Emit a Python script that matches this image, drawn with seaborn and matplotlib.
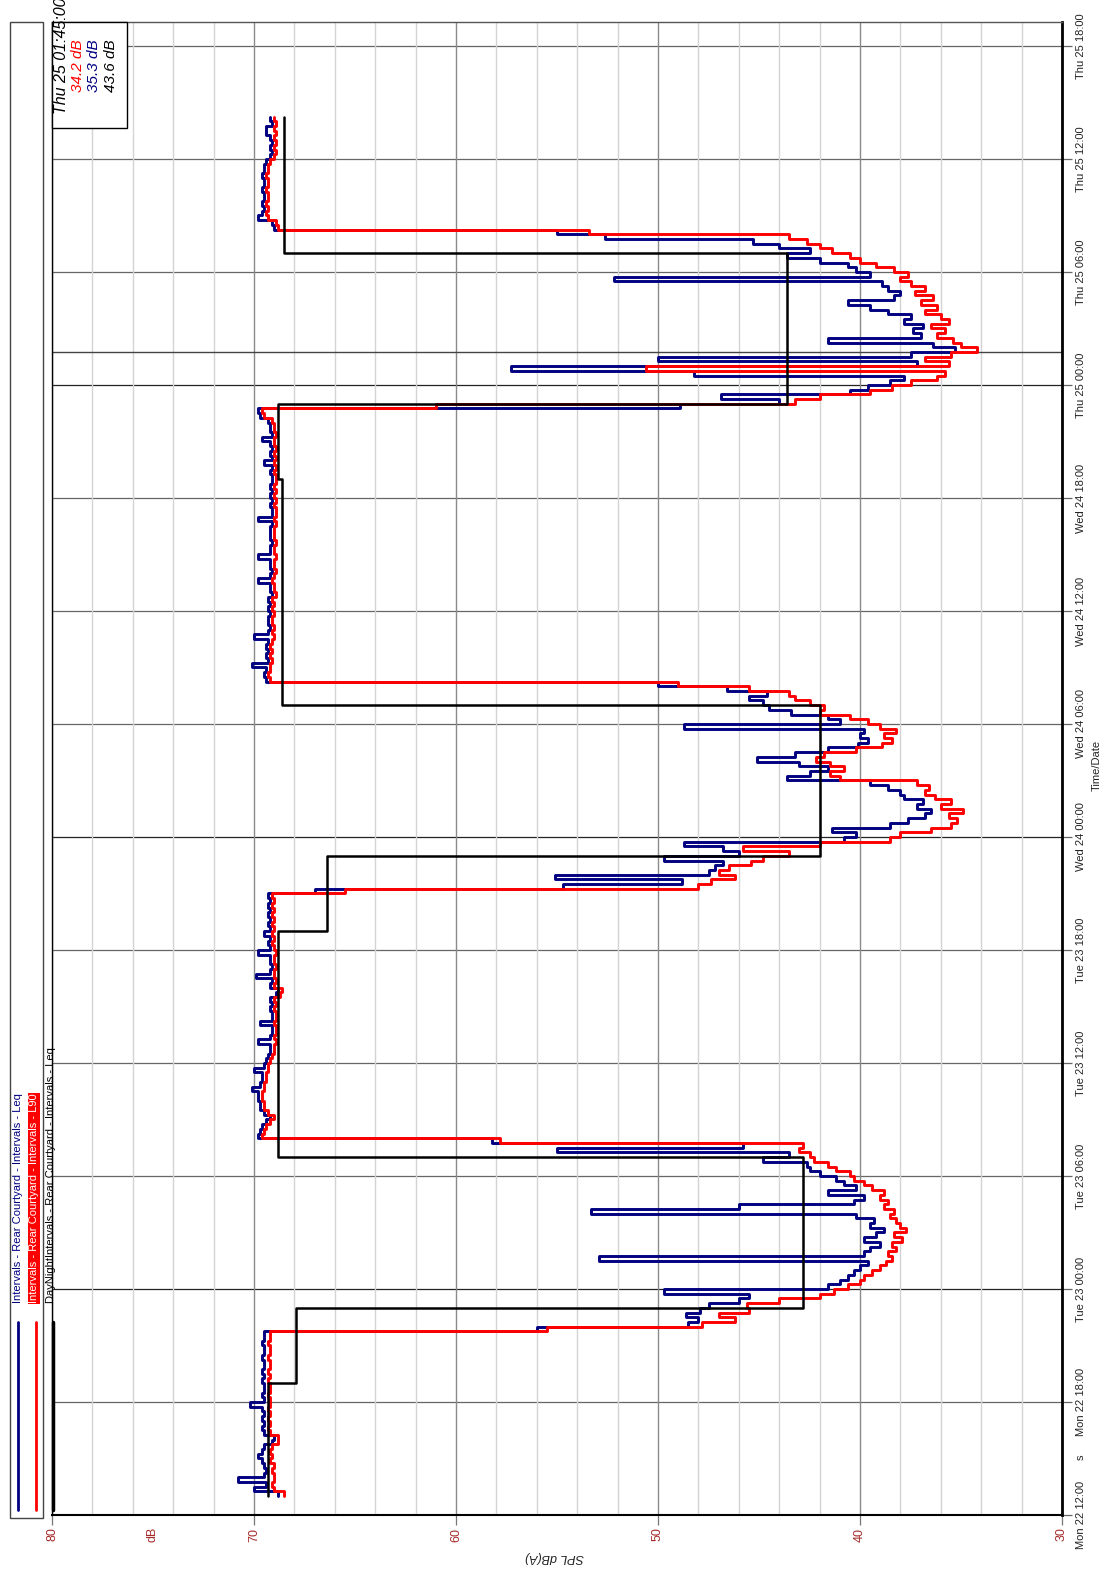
import numpy as np
import pandas as pd
import seaborn as sns
import matplotlib.pyplot as plt
from matplotlib.patches import Rectangle
from matplotlib.lines import Line2D

W, H = 1113, 1573

# 15 minute intervals, hours counted from Mon 22 12:00, first interval starts 13:00
start_hour = 1.0
step_hour = 0.25

# L90 (red) per period
l90_mon_day = [68.5, 69.0, 69.1, 69.0, 69.0, 69.1, 69.0,
               69.2, 69.1, 69.2, 69.1, 68.8, 68.8, 69.2,
               69.3, 69.2, 69.3, 69.2, 69.3, 69.2, 69.2,
               69.3, 69.2, 69.2, 69.3, 69.2, 69.3, 69.2,
               69.2, 69.3, 69.2, 69.2, 69.3, 69.2, 69.2]
l90_night1 = [55.5, 47.8, 46.2, 47.0, 45.5, 45.6, 44.0, 42.0,
              41.3, 40.6, 40.0, 39.8, 39.4, 39.0, 38.7, 38.4,
              38.6, 38.2, 38.4, 37.9, 38.3, 37.7, 38.0, 38.2,
              38.5, 38.3, 38.8, 38.6, 39.0, 38.8, 39.4, 39.8,
              40.3, 40.5, 41.2, 41.6, 42.3, 42.5, 43.0, 42.8]
l90_tue_day = [57.8, 69.6, 69.5, 69.4, 69.2, 69.0, 69.3, 69.5,
               69.5, 69.6, 69.6, 69.5, 69.5, 69.4, 69.4, 69.3,
               69.3, 69.2, 69.1, 69.0, 69.0, 68.9, 69.0, 68.9,
               68.9, 69.0, 68.9, 68.9, 69.0, 68.9, 69.0, 68.7,
               68.6, 69.0, 68.9, 69.0, 69.0, 68.9, 69.0, 69.0,
               68.9, 69.0, 69.1, 69.0, 69.1, 69.0, 69.1, 69.0,
               69.1, 69.0, 69.1, 69.0, 69.1]
l90_night2 = [65.5, 48.0, 47.4, 46.2, 47.0, 46.5, 45.4, 44.8,
              43.5, 45.8, 42.0, 38.5, 38.0, 36.5, 35.5, 35.2,
              35.6, 34.9, 36.0, 35.5, 36.3, 36.8, 36.6, 37.2,
              41.0, 41.5, 40.8, 41.5, 42.2, 41.8, 40.2, 38.9,
              38.4, 38.8, 38.2, 39.0, 39.6, 40.5, 42.0, 41.8,
              42.5, 43.2, 43.5, 45.5, 49.0]
l90_wed_day = [69.2, 69.3, 69.2, 69.2, 69.1, 69.2, 69.1, 69.2,
               69.1, 69.0, 69.1, 69.0, 69.1, 69.1, 69.0, 69.1,
               69.0, 69.1, 68.9, 69.0, 69.0, 69.1, 69.0, 68.9,
               69.0, 69.0, 68.9, 69.0, 69.0, 68.9, 69.0, 69.0,
               69.0, 68.9, 69.0, 68.9, 68.9, 69.0, 68.9, 69.0,
               68.9, 69.0, 68.9, 68.9, 69.0, 68.9, 69.0, 68.9,
               69.0, 68.9, 69.0, 69.0, 68.9, 69.0, 69.0, 69.1,
               69.5, 69.6]
l90_night3 = [61.0, 43.2, 42.0, 39.5, 38.4, 37.5, 36.2, 35.8,
              50.6, 35.6, 36.8, 35.5, 34.2, 35.0, 35.4, 36.2,
              35.8, 36.5, 35.6, 36.0, 36.8, 36.2, 37.0, 36.4,
              37.3, 36.8, 37.5, 38.0, 37.6, 38.3, 39.2, 40.0,
              40.5, 41.4, 42.0, 42.6, 43.5]
l90_thu_day = [53.4, 68.8, 68.9, 69.3, 69.4, 69.3, 69.4, 69.3,
               69.3, 69.4, 69.3, 69.3, 69.4, 69.3, 69.3, 69.2,
               69.0, 68.9, 69.0, 68.9, 69.0, 68.9, 69.0, 68.9,
               69.0]

# Leq (blue) per period
leq_mon_day = [68.8, 70.0, 69.4, 70.8, 69.5, 69.4, 69.5,
               69.6, 69.8, 69.6, 69.5, 69.1, 69.0, 69.5,
               69.6, 69.5, 69.6, 69.5, 69.6, 70.2, 69.5,
               69.6, 69.5, 69.5, 69.6, 69.5, 69.6, 69.5,
               69.5, 69.6, 69.5, 69.5, 69.6, 69.5, 69.5]
leq_night1 = [56.0, 48.5, 48.0, 48.6, 47.9, 47.5, 46.0, 45.5,
              49.7, 41.6, 41.0, 40.6, 40.3, 40.0, 39.6, 52.9,
              39.8, 39.5, 39.0, 39.8, 39.2, 38.8, 39.5, 39.3,
              40.2, 53.3, 46.0, 40.3, 39.8, 41.6, 40.2, 40.8,
              41.2, 42.0, 42.5, 42.6, 44.8, 43.5, 55.0, 45.8]
leq_tue_day = [58.2, 69.8, 69.7, 69.6, 69.4, 69.2, 69.5, 69.7,
               69.7, 69.8, 69.8, 70.1, 69.7, 69.6, 69.6, 70.0,
               69.5, 69.4, 69.3, 69.2, 69.2, 69.8, 69.2, 69.1,
               69.1, 69.7, 69.1, 69.1, 69.2, 69.1, 69.2, 68.9,
               68.8, 69.2, 69.1, 69.9, 69.2, 69.1, 69.2, 69.2,
               69.8, 69.2, 69.3, 69.2, 69.5, 69.2, 69.3, 69.2,
               69.3, 69.2, 69.3, 69.2, 69.3]
leq_night2 = [67.0, 54.7, 48.8, 55.1, 47.5, 47.2, 46.8, 49.7,
              46.0, 46.8, 48.7, 40.8, 40.2, 41.4, 38.5, 37.6,
              36.8, 36.5, 37.2, 36.9, 37.8, 38.0, 38.6, 39.5,
              43.6, 42.5, 41.6, 43.0, 45.1, 43.2, 41.6, 40.1,
              39.6, 40.0, 39.8, 48.7, 41.0, 41.6, 43.4, 44.5,
              44.8, 45.5, 44.6, 46.6, 50.0]
leq_wed_day = [69.4, 69.5, 69.4, 70.1, 69.3, 69.4, 69.3, 69.4,
               69.3, 70.0, 69.3, 69.2, 69.3, 69.3, 69.2, 69.3,
               69.2, 69.3, 69.1, 69.2, 69.2, 69.8, 69.2, 69.1,
               69.2, 69.2, 69.8, 69.2, 69.2, 69.1, 69.2, 69.2,
               69.2, 69.1, 69.8, 69.1, 69.1, 69.2, 69.1, 69.2,
               69.1, 69.2, 69.1, 69.1, 69.2, 69.1, 69.5, 69.1,
               69.2, 69.1, 69.2, 69.6, 69.1, 69.2, 69.2, 69.3,
               69.7, 69.8]
leq_night3 = [48.9, 44.0, 46.9, 40.5, 39.6, 38.5, 37.8, 48.2,
              57.3, 37.2, 50.0, 37.5, 35.3, 36.4, 41.6, 37.0,
              37.4, 36.9, 37.8, 37.5, 38.6, 39.5, 40.6, 38.3,
              38.0, 38.6, 38.9, 52.2, 39.5, 40.2, 40.6, 42.0,
              43.6, 42.5, 44.0, 45.3, 52.6]
leq_thu_day = [55.0, 69.0, 69.1, 69.8, 69.6, 69.5, 69.6, 69.5,
               69.5, 69.6, 69.5, 69.5, 69.6, 69.5, 69.5, 69.4,
               69.2, 69.1, 69.2, 69.1, 69.2, 69.4, 69.4, 69.1,
               69.2]

# DayNight Leq (black): start hour of each period and its value
dn_start = [1.0, 7.0, 11.0, 19.0, 31.0, 35.0, 43.0, 55.0, 59.0, 67.0]
dn_leq = [69.3, 67.9, 42.8, 68.8, 66.4, 42.0, 68.6, 68.8, 43.6, 68.5]
dn_end = 74.25

time_ticks = [0, 6, 12, 18, 24, 30, 36, 42, 48, 54, 60, 66, 72, 78]
time_labels = ["Mon 22 12:00", "Mon 22 18:00", "Tue 23 00:00", "Tue 23 06:00",
               "Tue 23 12:00", "Tue 23 18:00", "Wed 24 00:00", "Wed 24 06:00",
               "Wed 24 12:00", "Wed 24 18:00", "Thu 25 00:00", "Thu 25 06:00",
               "Thu 25 12:00", "Thu 25 18:00"]
db_ticks = [80, 70, 60, 50, 40, 30]

cursor_hour = 61.75
cursor_time = "Thu 25 01:45:00"
cursor_texts = ["34.2 dB", "35.3 dB", "43.6 dB"]

legend_names = ["Intervals - Rear Courtyard - Intervals - Leq",
                "Intervals - Rear Courtyard - Intervals - L90",
                "DayNightIntervals - Rear Courtyard - Intervals - Leq"]

NAVY = "#000080"
RED = "#ff0000"
DBRED = "#a52a2a"

l90 = l90_mon_day + l90_night1 + l90_tue_day + l90_night2 + l90_wed_day + l90_night3 + l90_thu_day
leq = leq_mon_day + leq_night1 + leq_tue_day + leq_night2 + leq_wed_day + leq_night3 + leq_thu_day
starts = [start_hour + step_hour * i for i in range(len(l90))]
end_hour = starts[-1] + step_hour


def step_frame(t0, vals, t_end):
    # value is held from its start time until the next one (time runs up the page)
    return pd.DataFrame({"hour": list(t0) + [t_end], "dB": list(vals) + [vals[-1]]})


sns.set_style("white")
plt.rcParams["font.family"] = ["Liberation Sans", "DejaVu Sans"]

fig = plt.figure(figsize=(W / 100, H / 100), dpi=100)
ax = fig.add_axes([52 / W, 1 - 1515 / H, (1062 - 52) / W, (1515 - 22) / H])


def fx(px):
    return px / W


def fy(py):
    return 1 - py / H


# grid
for t in time_ticks:
    ax.axhline(t, color="#222222" if t % 24 == 12 else "#666666", lw=0.9, zorder=0.5)
ax.set_xticks(db_ticks)
ax.set_xticks(np.arange(30, 81, 2), minor=True)
ax.grid(which="minor", axis="x", color="#d4d4d4", lw=1.0, zorder=0.2)
ax.grid(which="major", axis="x", color="#8a8a8a", lw=1.0, zorder=0.3)
ax.grid(which="major", axis="y", visible=False)
ax.set_axisbelow(True)
ax.axhline(cursor_hour, color="#444444", lw=1.0, zorder=0.6)

sns.lineplot(data=step_frame(starts, leq, end_hour), x="dB", y="hour", sort=False,
             estimator=None, drawstyle="steps-pre", color=NAVY, linewidth=2.1, ax=ax)
sns.lineplot(data=step_frame(starts, l90, end_hour), x="dB", y="hour", sort=False,
             estimator=None, drawstyle="steps-pre", color=RED, linewidth=2.1, ax=ax)
sns.lineplot(data=step_frame(dn_start, dn_leq, dn_end), x="dB", y="hour", sort=False,
             estimator=None, drawstyle="steps-pre", color="black", linewidth=1.8, ax=ax)

ax.set_xlim(80, 30)
ax.set_ylim(0, 79.27)
ax.set_xlabel("")
ax.set_ylabel("")

ax.set_yticks(time_ticks)
ax.set_yticklabels(time_labels)
ax.yaxis.tick_right()
ax.tick_params(axis="y", which="major", length=7, width=0.9, color="#666666", pad=3,
               labelrotation=90, labelsize=8, labelcolor="#222222")
for lbl in ax.get_yticklabels():
    lbl.set_va("center")
ax.tick_params(axis="x", which="major", length=7, width=0.9, color="#777777", pad=2,
               labelrotation=90, labelsize=9, labelcolor=DBRED, bottom=True)
ax.tick_params(axis="x", which="minor", length=0)

ax.spines["right"].set_linewidth(2.0)
ax.spines["right"].set_color("black")
ax.spines["bottom"].set_linewidth(1.5)
ax.spines["bottom"].set_color("black")
ax.spines["left"].set_linewidth(1.0)
ax.spines["left"].set_color("black")
ax.spines["top"].set_linewidth(1.0)
ax.spines["top"].set_color("#555555")

# axis titles
fig.text(fx(152), fy(1527), "dB", rotation=90, ha="center", va="top", color=DBRED, fontsize=9)
fig.text(fx(555), fy(1557), "SPL dB(A)", rotation=180, ha="center", va="center",
         fontsize=9, fontstyle="italic", color="#222222")
fig.text(fx(1081), fy(1457), "s", rotation=90, ha="center", va="center", fontsize=8)
fig.text(fx(1097), fy(765), "Time/Date", rotation=90, ha="center", va="center", fontsize=8)

# legend strip along the left edge
fig.add_artist(Rectangle((fx(10), fy(1518)), fx(43) - fx(10), fy(22) - fy(1518),
                         transform=fig.transFigure, facecolor="white", edgecolor="#444444", lw=1.0))
fig.add_artist(Line2D([fx(18), fx(18)], [fy(1322), fy(1510)], color=NAVY, lw=2.0))
fig.add_artist(Line2D([fx(36), fx(36)], [fy(1322), fy(1510)], color=RED, lw=2.0))
fig.add_artist(Line2D([fx(53), fx(53)], [fy(1322), fy(1510)], color="black", lw=2.5))
fig.text(fx(18), fy(1303), legend_names[0], rotation=90, ha="center", va="bottom",
         color=NAVY, fontsize=8)
fig.text(fx(34), fy(1303), legend_names[1], rotation=90, ha="center", va="bottom",
         color="white", fontsize=8, bbox=dict(facecolor=RED, edgecolor="none", pad=0.6))
fig.text(fx(51), fy(1303), legend_names[2], rotation=90, ha="center", va="bottom",
         color="black", fontsize=8)

# cursor read-out box
fig.add_artist(Rectangle((fx(52), fy(128)), fx(127) - fx(52), fy(22) - fy(128),
                         transform=fig.transFigure, facecolor="white", edgecolor="black", lw=1.0))
fig.text(fx(61), fy(114), cursor_time, rotation=90, ha="center", va="bottom",
         fontsize=11.5, fontstyle="italic", color="black")
for xp, txt, col in zip([78, 94, 111], cursor_texts, [RED, NAVY, "black"]):
    fig.text(fx(xp), fy(92), txt, rotation=90, ha="center", va="bottom",
             fontsize=11, fontstyle="italic", color=col)

fig.savefig("out.png", dpi=100)
